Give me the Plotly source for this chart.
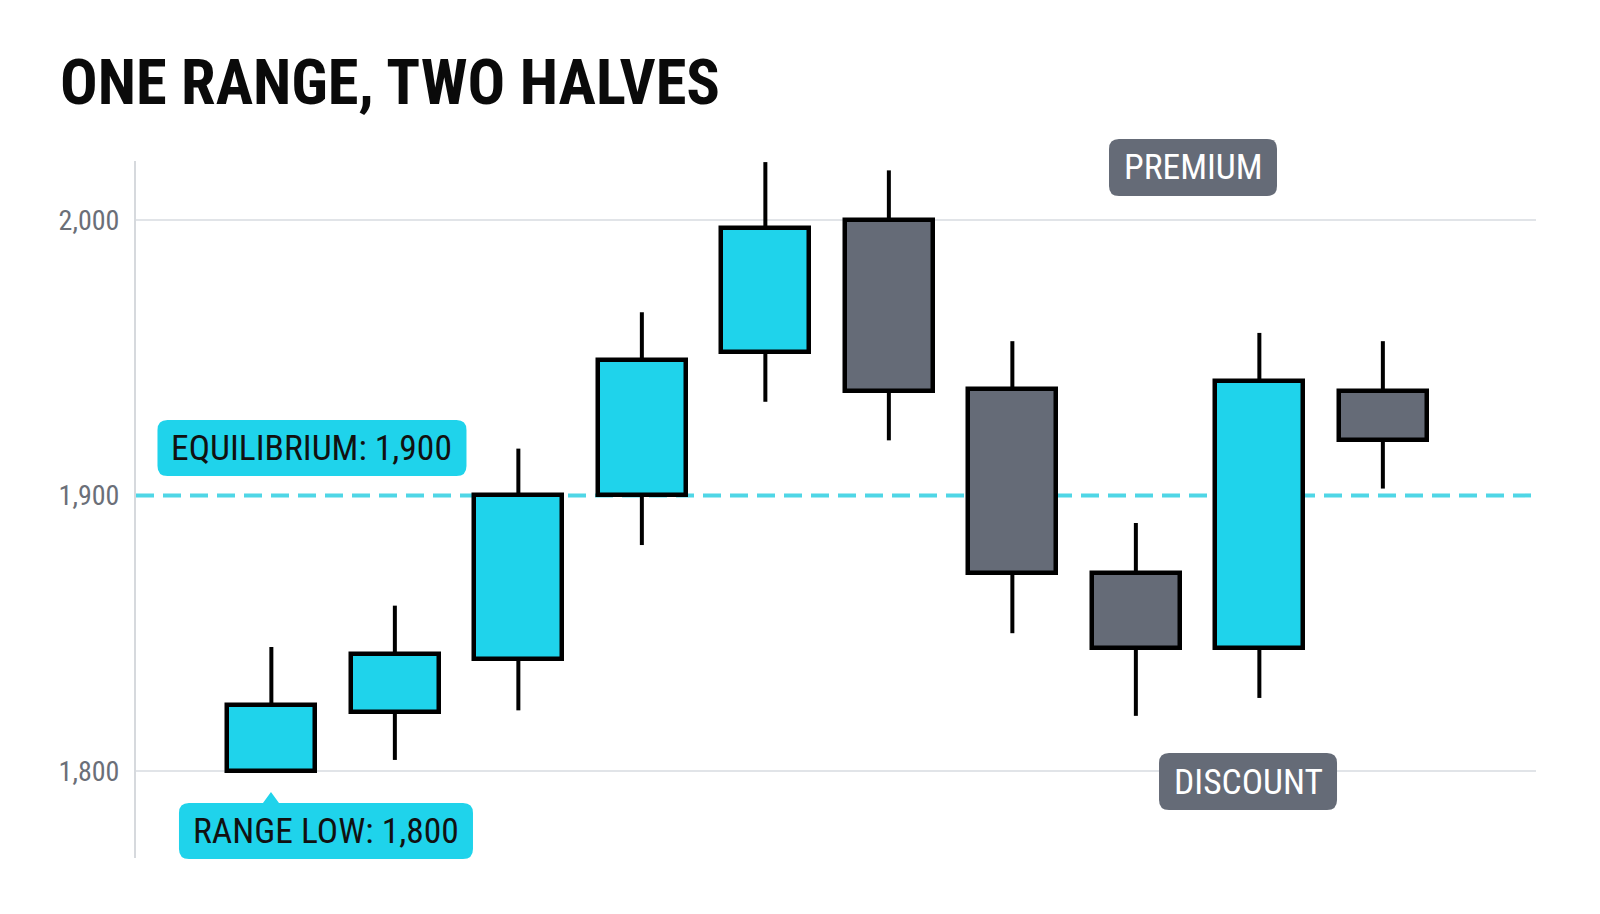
import plotly.graph_objects as go

# candle data (price)
sessions = [1, 2, 3, 4, 5, 6, 7, 8, 9, 10]
opens = [1800, 1821.5, 1840.5, 1900, 1952, 2000, 1938.5, 1872, 1844.5, 1938]
closes = [1824, 1842.5, 1900, 1949, 1997, 1938, 1872, 1844.5, 1941.5, 1920]
highs = [1845, 1860, 1917, 1966.5, 2021, 2018, 1956, 1890, 1959, 1956]
lows = [1800, 1804, 1822, 1882, 1934, 1920, 1850, 1820, 1826.5, 1902.5]

tick_vals = [1800, 1900, 2000]
tick_text = ["1,800", "1,900", "2,000"]
equilibrium = 1900

CYAN = "#1fd3eb"
GRAY = "#656b77"
COND = "Roboto Condensed, Liberation Sans Narrow, Roboto, sans-serif"

# body and wick pieces from the OHLC lists
body_base = [min(o, c) for o, c in zip(opens, closes)]
body_size = [abs(c - o) for o, c in zip(opens, closes)]
body_color = [CYAN if c >= o else GRAY for o, c in zip(opens, closes)]
wick_x, wick_y = [], []
for s, o, c, h, l in zip(sessions, opens, closes, highs, lows):
    wick_x += [s, s, None, s, s, None]
    wick_y += [l, min(o, c), None, max(o, c), h, None]


def rounded_box(w, h, r=10, pointer=None):
    # path in pixels around the anchor point (centre of the box), y points up
    x0, x1, y0, y1 = -w / 2, w / 2, -h / 2, h / 2
    p = f"M {x0 + r},{y1} "
    if pointer is not None:
        px, py = pointer
        p += f"L {px - 8},{y1} L {px},{py} L {px + 8},{y1} "
    p += (f"L {x1 - r},{y1} Q {x1},{y1} {x1},{y1 - r} "
          f"L {x1},{y0 + r} Q {x1},{y0} {x1 - r},{y0} "
          f"L {x0 + r},{y0} Q {x0},{y0} {x0},{y0 + r} "
          f"L {x0},{y1 - r} Q {x0},{y1} {x0 + r},{y1} Z")
    return p


fig = go.Figure()
fig.add_trace(go.Bar(
    x=sessions, y=body_size, base=body_base, width=0.714,
    marker=dict(color=body_color, line=dict(color="#000000", width=4.5)),
    hoverinfo="skip", showlegend=False,
))
fig.add_trace(go.Scatter(
    x=wick_x, y=wick_y, mode="lines", line=dict(color="#000000", width=4),
    hoverinfo="skip", showlegend=False,
))

# grid lines (not at the equilibrium, which gets its own dashed line)
for v in tick_vals:
    if v != equilibrium:
        fig.add_shape(type="line", xref="paper", x0=0, x1=1, y0=v, y1=v,
                      line=dict(color="#e1e4e8", width=2), layer="below")
fig.add_shape(type="line", xref="paper", x0=0, x1=1, y0=equilibrium, y1=equilibrium,
              line=dict(color="#4fd6e6", width=4, dash="18px,9px"), layer="below")

# labels in paper coords: (text, x, y, w, h, fill, font colour, pointer)
labels = [
    ("EQUILIBRIUM: 1,900", 0.1257, 0.5881, 309, 56, CYAN, "#111111", None),
    ("RANGE LOW: 1,800", 0.1357, 0.0387, 294, 56, CYAN, "#111111", (-55, 39)),
    ("PREMIUM", 0.7550, 0.9907, 168, 57, GRAY, "#ffffff", None),
    ("DISCOUNT", 0.7943, 0.1097, 178, 57, GRAY, "#ffffff", None),
]
for text, lx, ly, w, h, fill, fc, ptr in labels:
    fig.add_shape(type="path", xref="paper", yref="paper", xsizemode="pixel", ysizemode="pixel",
                  xanchor=lx, yanchor=ly, path=rounded_box(w, h, 10, ptr),
                  fillcolor=fill, line=dict(width=0), layer="above")
    fig.add_annotation(xref="paper", yref="paper", x=lx, y=ly, xanchor="center", yanchor="middle",
                       text=text, showarrow=False,
                       font=dict(family=COND, size=35.5, color=fc))

fig.update_layout(
    width=1600, height=914,
    paper_bgcolor="#ffffff", plot_bgcolor="#ffffff",
    margin=dict(l=128, r=72, t=153, b=64),
    bargap=0,
    title=dict(text="<b>ONE RANGE, TWO HALVES</b>", xref="container", yref="container",
               x=52 / 1600, xanchor="left", y=1 - 74 / 914, yanchor="middle",
               font=dict(family=COND, size=62.5, color="#0a0a0a")),
    xaxis=dict(range=[-0.096, 11.24], visible=False, fixedrange=True),
    yaxis=dict(range=[1768.4, 2021.4], tickvals=tick_vals, ticktext=tick_text,
               showgrid=False, showline=True, linecolor="#d6d9dd", linewidth=2,
               zeroline=False, ticks="", ticklabelstandoff=9,
               tickfont=dict(family=COND, size=28, color="#6b6f78"), fixedrange=True),
    showlegend=False,
)

fig.write_html("out.html")
